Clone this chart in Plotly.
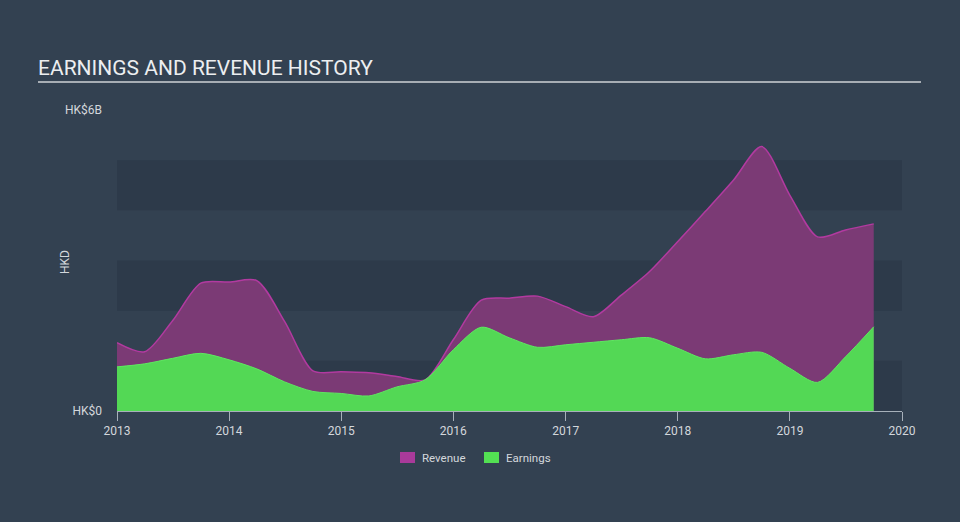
import plotly.graph_objects as go

dates = [f"{y}-{m:02d}-01" for y in range(2013, 2020) for m in (1, 4, 7, 10)]
revenue = [1.36, 1.18, 1.80, 2.55, 2.57, 2.60, 1.78, 0.80,
           0.78, 0.76, 0.69, 0.62, 1.42, 2.21, 2.25, 2.29,
           2.08, 1.88, 2.31, 2.78, 3.38, 3.98, 4.60, 5.27,
           4.30, 3.47, 3.61, 3.73]
earnings = [0.88, 0.94, 1.05, 1.15, 1.02, 0.84, 0.58, 0.39,
            0.35, 0.30, 0.48, 0.62, 1.22, 1.67, 1.46, 1.27,
            1.32, 1.37, 1.42, 1.46, 1.25, 1.04, 1.12, 1.17,
            0.85, 0.57, 1.08, 1.68]
year_ticks = [f"{y}-01-01" for y in range(2013, 2021)]
year_labels = [str(y) for y in range(2013, 2021)]
series_names = ["Revenue", "Earnings"]
legend_colors = ["#a93a9a", "#53e053"]

BG = "#334151"
BAND = "#2d3a4a"
FONT = "Roboto"

PL, PR, PT, PB = 117, 58, 110, 111
PW, PH = 960 - PL - PR, 522 - PT - PB


def px(xp):
    return (xp - PL) / PW


def py(yp):
    return (522 - PB - yp) / PH


fig = go.Figure()
fig.add_trace(go.Scatter(x=dates, y=[v * 1e9 for v in revenue], mode="lines",
                         line=dict(color="#b23aa0", width=1.5, shape="spline", smoothing=0.8),
                         fill="tozeroy", fillcolor="#7b3a75", showlegend=False, hoverinfo="skip"))
fig.add_trace(go.Scatter(x=dates, y=[v * 1e9 for v in earnings], mode="lines",
                         line=dict(color="#5ee860", width=1, shape="spline", smoothing=0.8),
                         fill="tozeroy", fillcolor="#53d855", showlegend=False, hoverinfo="skip"))

shapes = []
for lo in (0, 2, 4):
    shapes.append(dict(type="rect", xref="paper", yref="y", x0=0, x1=1,
                       y0=lo * 1e9, y1=(lo + 1) * 1e9, fillcolor=BAND,
                       line=dict(width=0), layer="below"))
shapes.append(dict(type="line", xref="paper", yref="paper",
                   x0=px(38), x1=px(921), y0=py(82), y1=py(82),
                   line=dict(color="#a7adb4", width=2)))

annotations = [
    dict(text="EARNINGS AND REVENUE HISTORY", xref="paper", yref="paper",
         x=px(36), y=py(68), xanchor="left", yanchor="middle",
         showarrow=False, font=dict(size=21, color="#eceef0", family=FONT)),
    dict(text="HKD", xref="paper", yref="paper", x=px(65), y=py(262),
         textangle=-90, showarrow=False, xanchor="center", yanchor="middle",
         font=dict(size=12, color="#d3d7dc")),
]

# manual legend
legend_x = [400, 484]
for name, col, lx in zip(series_names, legend_colors, legend_x):
    shapes.append(dict(type="rect", xref="paper", yref="paper",
                       x0=px(lx), x1=px(lx + 15), y0=py(463), y1=py(452),
                       fillcolor=col, line=dict(width=0)))
    annotations.append(dict(text=name, xref="paper", yref="paper",
                            x=px(lx + 20), y=py(458), xanchor="left", yanchor="middle",
                            showarrow=False, font=dict(size=11.5, color="#d3d7dc")))

fig.update_layout(
    width=960, height=522, paper_bgcolor=BG, plot_bgcolor=BG,
    margin=dict(l=PL, r=PR, t=PT, b=PB, autoexpand=False),
    font=dict(family=FONT, color="#d3d7dc", size=12),
    shapes=shapes,
    showlegend=False,
    annotations=annotations,
    xaxis=dict(type="date", range=["2013-01-01", "2020-01-01"], tickvals=year_ticks,
               ticktext=year_labels, ticks="outside", ticklen=9, tickcolor="#a7b0ba",
               showline=True, linecolor="#a7b0ba", linewidth=1, showgrid=False,
               zeroline=False, tickfont=dict(size=12, color="#d3d7dc")),
    yaxis=dict(range=[0, 6e9], tickvals=[0, 6e9], ticktext=["HK$0", "HK$6B"],
               showgrid=False, zeroline=False, showline=False, ticks="",
               ticklabelstandoff=14, tickfont=dict(size=12, color="#d3d7dc")),
)

fig.write_html("out.html")
